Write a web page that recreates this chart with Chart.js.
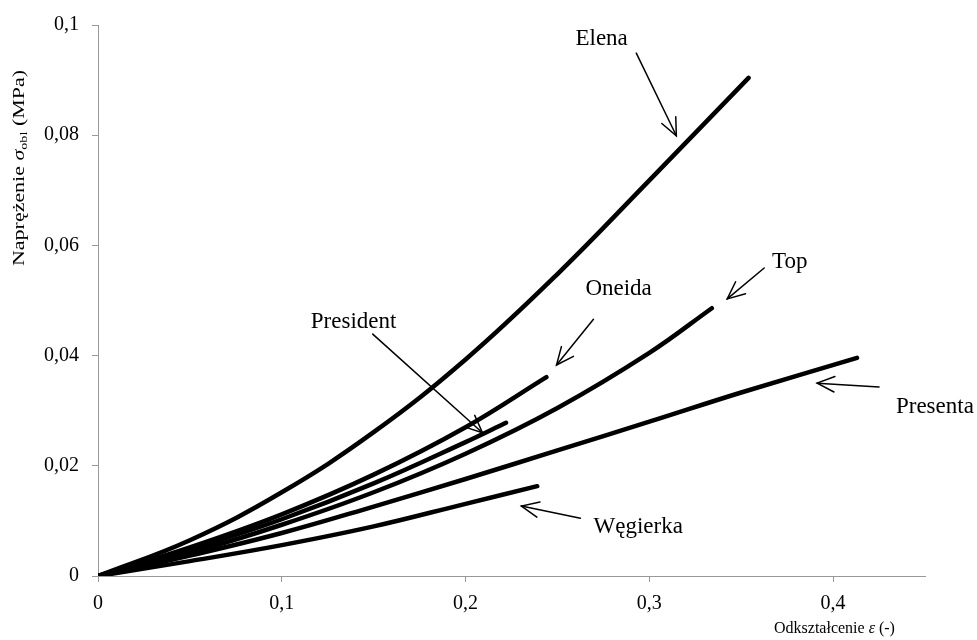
<!DOCTYPE html>
<html>
<head>
<meta charset="utf-8">
<script src="https://cdn.jsdelivr.net/npm/chart.js@4/dist/chart.umd.min.js"></script>
<style>
html,body{margin:0;padding:0;background:#fff;}
#wrap{width:977px;height:640px;position:relative;}
</style>
</head>
<body>
<div id="wrap"><canvas id="c" width="977" height="640"></canvas></div>
<script>
// ---- Data (strain ε, stress σ_obl in MPa) ----
const strainElena = [0, 0.05, 0.1, 0.15, 0.2, 0.25, 0.3, 0.354];
const stressElena = [0, 0.0065, 0.0152, 0.0261, 0.0393, 0.0548, 0.0718, 0.0904];

const strainOneida = [0, 0.05, 0.1, 0.15, 0.2, 0.244];
const stressOneida = [0, 0.0052, 0.0112, 0.0184, 0.0270, 0.0361];

const strainPresident = [0, 0.05, 0.1, 0.15, 0.2, 0.222];
const stressPresident = [0, 0.0048, 0.0103, 0.0168, 0.0243, 0.0278];

const strainTop = [0, 0.05, 0.1, 0.15, 0.2, 0.25, 0.3, 0.334];
const stressTop = [0, 0.0042, 0.0093, 0.0152, 0.0222, 0.0305, 0.0405, 0.0486];

const strainPresenta = [0, 0.05, 0.1, 0.15, 0.2, 0.25, 0.3, 0.35, 0.413];
const stressPresenta = [0, 0.0037, 0.0078, 0.0126, 0.0176, 0.0228, 0.0280, 0.0333, 0.0396];

const strainWegierka = [0, 0.05, 0.1, 0.15, 0.2, 0.239];
const stressWegierka = [0, 0.0027, 0.0056, 0.0090, 0.0131, 0.0163];

const seriesNames = ['Elena', 'Oneida', 'President', 'Top', 'Presenta', 'Węgierka'];
const xTicks = [0, 0.1, 0.2, 0.3, 0.4];
const yTicks = [0, 0.02, 0.04, 0.06, 0.08, 0.1];

// Annotation labels with arrows (data coordinates)
const labelText  = ['Elena', 'Top', 'Oneida', 'President', 'Presenta', 'Węgierka'];
const labelAt    = [[0.2598, 0.0964], [0.3668, 0.0559], [0.2652, 0.0510], [0.1158, 0.0450], [0.4342, 0.0296], [0.2696, 0.0078]];
const arrowFrom  = [[0.2929, 0.0949], [0.3625, 0.0559], [0.2696, 0.0466], [0.1495, 0.0439], [0.4250, 0.0343], [0.2625, 0.0105]];
const arrowTo    = [[0.3147, 0.0799], [0.3424, 0.0503], [0.2495, 0.0383], [0.2092, 0.0260], [0.3913, 0.0350], [0.2304, 0.0127]];

const xTitleMain = 'Odkształcenie ';
const xTitleSym = 'ε';
const xTitleUnit = ' (-)';
const yTitleMain = 'Naprężenie ';
const yTitleSym = 'σ';
const yTitleSub = 'obl';
const yTitleUnit = ' (MPa)';

function pts(xs, ys){ return xs.map((x,i)=>({x:x, y:ys[i]})); }
const allX = [strainElena, strainOneida, strainPresident, strainTop, strainPresenta, strainWegierka];
const allY = [stressElena, stressOneida, stressPresident, stressTop, stressPresenta, stressWegierka];

const SERIF = '"Liberation Serif", "Times New Roman", serif';

const annotations = {
  id: 'annotations',
  afterDatasetsDraw(chart){
    const ctx = chart.ctx, xs = chart.scales.x, ys = chart.scales.y;
    ctx.save();
    ctx.strokeStyle = '#000';
    ctx.fillStyle = '#000';
    ctx.lineWidth = 1.5;
    ctx.lineCap = 'round';
    for (let i = 0; i < labelText.length; i++){
      const x1 = xs.getPixelForValue(arrowFrom[i][0]), y1 = ys.getPixelForValue(arrowFrom[i][1]);
      const x2 = xs.getPixelForValue(arrowTo[i][0]),   y2 = ys.getPixelForValue(arrowTo[i][1]);
      ctx.beginPath(); ctx.moveTo(x1,y1); ctx.lineTo(x2,y2); ctx.stroke();
      const ang = Math.atan2(y2-y1, x2-x1), hl = 19, ha = 0.42;
      ctx.beginPath();
      ctx.moveTo(x2 - hl*Math.cos(ang-ha), y2 - hl*Math.sin(ang-ha));
      ctx.lineTo(x2, y2);
      ctx.lineTo(x2 - hl*Math.cos(ang+ha), y2 - hl*Math.sin(ang+ha));
      ctx.stroke();
      ctx.font = '23px ' + SERIF;
      ctx.textBaseline = 'alphabetic';
      ctx.textAlign = 'left';
      ctx.fillText(labelText[i], xs.getPixelForValue(labelAt[i][0]), ys.getPixelForValue(labelAt[i][1]));
    }
    // x axis title
    ctx.textBaseline = 'alphabetic';
    let tx = 774, ty = 633;
    ctx.font = '16px ' + SERIF;
    ctx.fillText(xTitleMain, tx, ty); tx += ctx.measureText(xTitleMain).width;
    ctx.font = 'italic 16px ' + SERIF;
    ctx.fillText(xTitleSym, tx, ty); tx += ctx.measureText(xTitleSym).width;
    ctx.font = '16px ' + SERIF;
    ctx.fillText(xTitleUnit, tx, ty);
    // y axis title (rotated)
    ctx.save();
    ctx.translate(24, 266);
    ctx.rotate(-Math.PI/2);
    const f = 17;
    ctx.font = f + 'px ' + SERIF;
    const w1 = ctx.measureText(yTitleMain).width;
    ctx.font = 'italic ' + f + 'px ' + SERIF;
    const w2 = ctx.measureText(yTitleSym).width;
    ctx.font = Math.round(f*0.65) + 'px ' + SERIF;
    const w3 = ctx.measureText(yTitleSub).width;
    ctx.font = f + 'px ' + SERIF;
    const w4 = ctx.measureText(yTitleUnit).width;
    const total = w1+w2+w3+w4;
    const sc = 196/total;
    ctx.scale(sc, 1);
    let p = 0;
    ctx.font = f + 'px ' + SERIF; ctx.fillText(yTitleMain, p, 0); p += w1;
    ctx.font = 'italic ' + f + 'px ' + SERIF; ctx.fillText(yTitleSym, p, 0); p += w2;
    ctx.font = Math.round(f*0.65) + 'px ' + SERIF; ctx.fillText(yTitleSub, p, 3); p += w3;
    ctx.font = f + 'px ' + SERIF; ctx.fillText(yTitleUnit, p, 0);
    ctx.restore();
    ctx.restore();
  }
};

const fmt = v => String(Math.round(v*100)/100).replace('.', ',');

new Chart(document.getElementById('c'), {
  type: 'scatter',
  data: {
    datasets: seriesNames.map((n,i)=>({
      label: n,
      data: pts(allX[i], allY[i]),
      showLine: true,
      borderColor: '#000',
      backgroundColor: '#000',
      borderWidth: 4.5,
      pointRadius: 0,
      tension: 0.4,
      borderCapStyle: 'round'
    }))
  },
  options: {
    responsive: false,
    animation: false,
    events: [],
    layout: { padding: { top: 25, right: 52, bottom: 0, left: 0 } },
    plugins: { legend: { display: false }, tooltip: { enabled: false } },
    scales: {
      x: {
        type: 'linear', min: 0, max: 0.45,
        afterFit(s){ s.height = 64; },
        afterBuildTicks(s){ s.ticks = xTicks.map(v=>({value:v})); },
        ticks: { callback: fmt, color: '#000', font: { family: SERIF, size: 20 }, padding: 10, maxRotation: 0 },
        grid: { drawOnChartArea: false, drawTicks: true, tickLength: 6, color: '#999' },
        border: { color: '#999', width: 1 }
      },
      y: {
        type: 'linear', min: 0, max: 0.1,
        afterFit(s){ s.width = 98; },
        afterBuildTicks(s){ s.ticks = yTicks.map(v=>({value:v})); },
        ticks: { callback: fmt, color: '#000', font: { family: SERIF, size: 20 }, padding: 13 },
        grid: { drawOnChartArea: false, drawTicks: true, tickLength: 6, color: '#999' },
        border: { color: '#999', width: 1 }
      }
    }
  },
  plugins: [annotations]
});
</script>
</body>
</html>
